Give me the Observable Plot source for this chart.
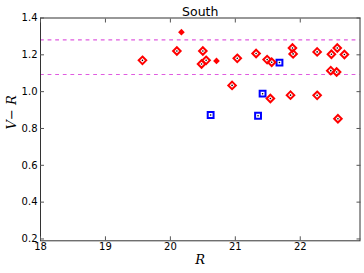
<!DOCTYPE html>
<html>
<head>
<meta charset="utf-8">
<script src="https://cdn.jsdelivr.net/npm/d3@7"></script>
<script src="https://cdn.jsdelivr.net/npm/@observablehq/plot@0.6"></script>
<style>
  html, body { margin: 0; padding: 0; background: #fff; }
  svg { display: block; }
</style>
</head>
<body>
<div id="chart"></div>
<script>
// Open red diamonds
const redOpenR  = [19.57, 20.10, 20.50, 20.55, 20.48, 21.03, 20.95, 21.32, 21.49, 21.56, 21.88, 21.89, 22.26, 22.48, 22.57, 22.68, 22.47, 22.56, 21.54, 21.85, 22.26, 22.58];
const redOpenVR = [1.170, 1.221, 1.221, 1.170, 1.150, 1.181, 1.034, 1.207, 1.174, 1.160, 1.237, 1.205, 1.216, 1.203, 1.237, 1.202, 1.114, 1.107, 0.963, 0.981, 0.980, 0.853];
// Filled red diamonds
const redFilledR  = [20.17, 20.71];
const redFilledVR = [1.323, 1.167];
// Blue squares
const blueR  = [20.62, 21.68, 21.42, 21.35];
const blueVR = [0.873, 1.158, 0.989, 0.869];
// Dashed reference levels
const refLevels = [1.281, 1.093];
// Ticks
const xTicks = [18, 19, 20, 21, 22];
const yTicks = [0.2, 0.4, 0.6, 0.8, 1.0, 1.2, 1.4];
const title = "South";
const xLabel = "R";
const yLabel = "V\u2212 R";

const redOpen = redOpenR.map((r, i) => ({r, vr: redOpenVR[i]}));
const redFilled = redFilledR.map((r, i) => ({r, vr: redFilledVR[i]}));
const blue = blueR.map((r, i) => ({r, vr: blueVR[i]}));

const chart = Plot.plot({
  width: 364,
  height: 273,
  marginLeft: 40,
  marginRight: 4.5,
  marginTop: 17.5,
  marginBottom: 32.7,
  style: {fontFamily: "DejaVu Sans", fontSize: "10px", color: "#000", background: "#fff"},
  x: {domain: [18, 22.92]},
  y: {domain: [0.19, 1.4]},
  marks: [
    Plot.ruleY(refLevels, {y: d => d, stroke: "#e05ce0", strokeWidth: 1.1, strokeDasharray: "3.8,3.8"}),
    Plot.dot(blue, {x: "r", y: "vr", symbol: "square", r: 3.3, stroke: "#0000ff", strokeWidth: 2, fill: "none"}),
    Plot.dot(redOpen, {x: "r", y: "vr", symbol: "diamond2", r: 3.4, stroke: "#ff0000", strokeWidth: 2, fill: "none"}),
    Plot.dot(redFilled, {x: "r", y: "vr", symbol: "diamond2", r: 3.0, fill: "#ff0000", stroke: "none"}),
    Plot.dot(redOpen.concat(blue), {x: "r", y: "vr", r: 0.8, fill: "#000", stroke: "none"}),
    Plot.frame({stroke: "#333", strokeWidth: 1}),
    Plot.axisX(xTicks, {anchor: "bottom", tickSize: -4, tickPadding: 6, label: null, stroke: "#555", fontSize: 10}),
    Plot.axisX(xTicks, {anchor: "top", tickSize: -4, tickFormat: () => "", label: null, stroke: "#555"}),
    Plot.axisY(yTicks, {anchor: "left", tickSize: -4, tickPadding: 7, tickFormat: d3.format(".1f"), label: null, stroke: "#555", fontSize: 10}),
    Plot.axisY(yTicks, {anchor: "right", tickSize: -4, tickFormat: () => "", label: null, stroke: "#555"}),
    Plot.text([title], {frameAnchor: "top", dy: -10.5, fontSize: 12.5, fontFamily: "DejaVu Sans", fill: "#000"}),
    Plot.text([xLabel], {frameAnchor: "bottom", dy: 23.5, fontSize: 13, fontFamily: "DejaVu Serif", fontStyle: "italic", fill: "#000"}),
    Plot.text([yLabel], {frameAnchor: "left", dx: -28.5, rotate: -90, fontSize: 13, fontFamily: "DejaVu Serif", fontStyle: "italic", fill: "#000"})
  ]
});
document.getElementById("chart").appendChild(chart);
</script>
</body>
</html>
